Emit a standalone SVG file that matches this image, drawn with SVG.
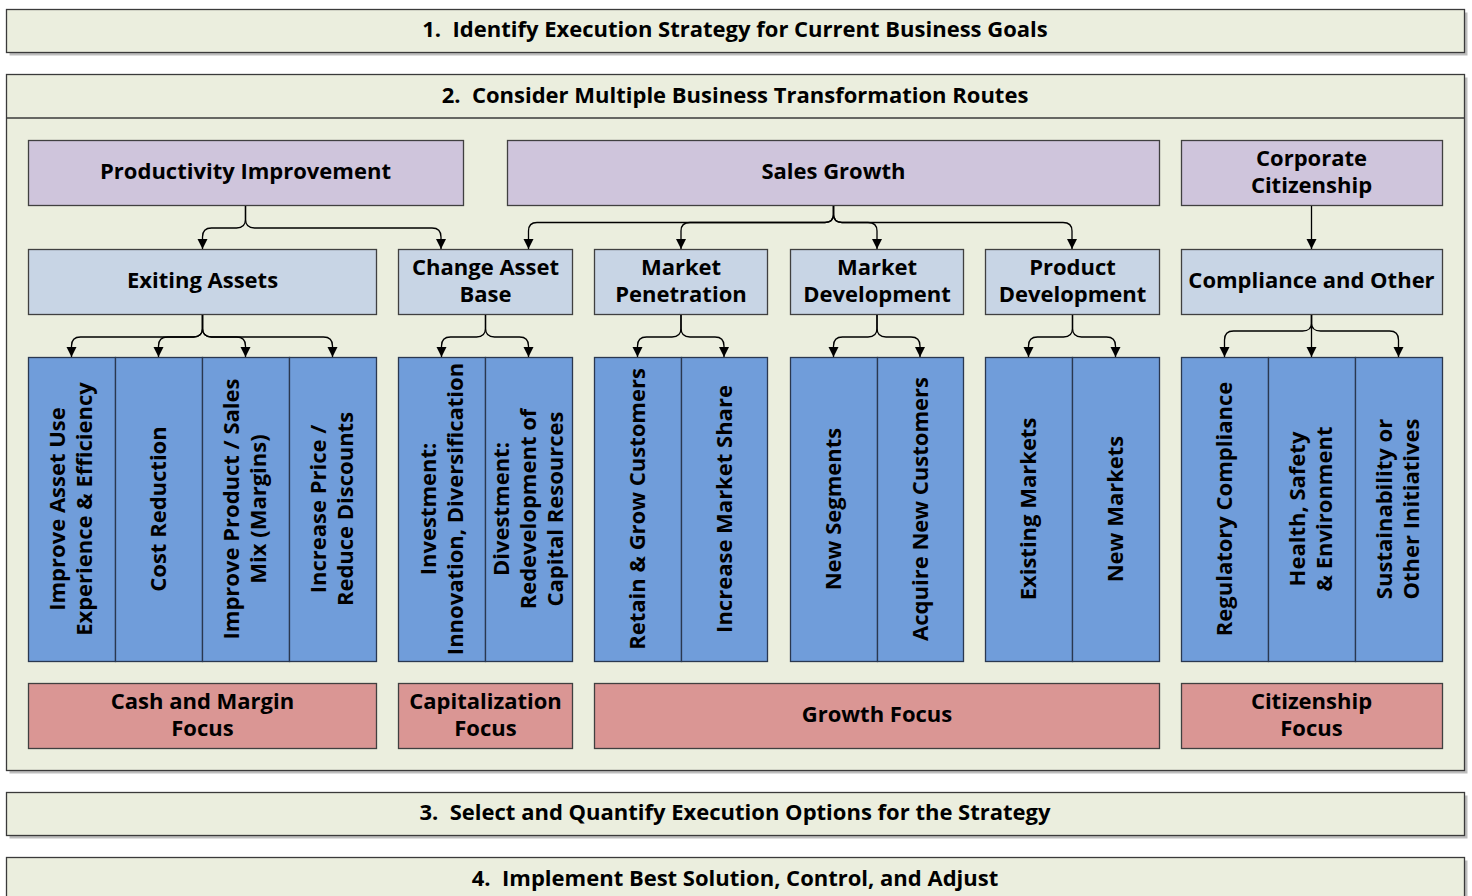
<svg xmlns="http://www.w3.org/2000/svg" width="1472" height="896" viewBox="0 0 1472 896">
<defs>
<marker id="arr" markerUnits="userSpaceOnUse" markerWidth="11" markerHeight="11" refX="10" refY="5" orient="auto">
<path d="M0,0 L10,5 L0,10 z" fill="#000"/>
</marker>
<style>
text{font-family:"Open Sans","Liberation Sans",sans-serif;font-weight:700;font-size:22px;fill:#000;text-anchor:middle;white-space:pre}
.band{fill:#EBEEDE;stroke:#3A3A3A;stroke-width:1.3}
.shadow{fill:#BDBDBD}
.purple{fill:#CFC5DC;stroke:#404040;stroke-width:1.3}
.lblue{fill:#C8D5E5;stroke:#404040;stroke-width:1.3}
.col{fill:#709DDA;stroke:#2A3850;stroke-width:1.3}
.red{fill:#DA9694;stroke:#404040;stroke-width:1.3}
.conn path{fill:none;stroke:#000;stroke-width:1.3;marker-end:url(#arr)}
</style>
</defs>
<rect width="1472" height="896" fill="#FFFFFF"/>

<g id="band1">
<rect class="shadow" x="9.5" y="12.5" width="1458" height="43"/>
<rect class="band" x="6.5" y="9.5" width="1458" height="43"/>
<text x="735" y="37">1.  Identify Execution Strategy for Current Business Goals</text>
</g>

<g id="band2">
<rect class="shadow" x="9.5" y="77.5" width="1458" height="696"/>
<rect class="band" x="6.5" y="74.5" width="1458" height="696"/>
<line x1="6.5" y1="118" x2="1464.5" y2="118" stroke="#3A3A3A" stroke-width="1.3"/>
<text x="735" y="103">2.  Consider Multiple Business Transformation Routes</text>
</g>

<g id="band3">
<rect class="shadow" x="9.5" y="795.5" width="1458" height="43"/>
<rect class="band" x="6.5" y="792.5" width="1458" height="43"/>
<text x="735" y="820">3.  Select and Quantify Execution Options for the Strategy</text>
</g>

<g id="band4">
<rect class="shadow" x="9.5" y="860.5" width="1458" height="60"/>
<rect class="band" x="6.5" y="857.5" width="1458" height="60"/>
<text x="735" y="886">4.  Implement Best Solution, Control, and Adjust</text>
</g>

<!-- top level -->
<g id="productivity">
<rect class="purple" x="28.5" y="140.5" width="435" height="65"/>
<text x="245.5" y="179">Productivity Improvement</text>
</g>
<g id="sales">
<rect class="purple" x="507.5" y="140.5" width="652" height="65"/>
<text x="833.5" y="179">Sales Growth</text>
</g>
<g id="corporate">
<rect class="purple" x="1181.5" y="140.5" width="261" height="65"/>
<text x="1311.5" y="165.5">Corporate</text>
<text x="1311.5" y="192.5">Citizenship</text>
</g>

<!-- second level -->
<g id="exiting">
<rect class="lblue" x="28.5" y="249.5" width="348" height="65"/>
<text x="202.5" y="288">Exiting Assets</text>
</g>
<g id="change">
<rect class="lblue" x="398.5" y="249.5" width="174" height="65"/>
<text x="485.5" y="274.5">Change Asset</text>
<text x="485.5" y="301.5">Base</text>
</g>
<g id="mpen">
<rect class="lblue" x="594.5" y="249.5" width="173" height="65"/>
<text x="681" y="274.5">Market</text>
<text x="681" y="301.5">Penetration</text>
</g>
<g id="mdev">
<rect class="lblue" x="790.5" y="249.5" width="173" height="65"/>
<text x="877" y="274.5">Market</text>
<text x="877" y="301.5">Development</text>
</g>
<g id="pdev">
<rect class="lblue" x="985.5" y="249.5" width="174" height="65"/>
<text x="1072.5" y="274.5">Product</text>
<text x="1072.5" y="301.5">Development</text>
</g>
<g id="compliance">
<rect class="lblue" x="1181.5" y="249.5" width="261" height="65"/>
<text x="1311.5" y="288">Compliance and Other</text>
</g>

<!-- columns -->
<g id="c1"><rect class="col" x="28.5" y="357.5" width="87" height="304"/>
<text transform="translate(71.5,509) rotate(-90)"><tspan x="0" y="-7">Improve Asset Use</tspan><tspan x="0" y="20">Experience &amp; Efficiency</tspan></text></g>
<g id="c2"><rect class="col" x="115.5" y="357.5" width="87" height="304"/>
<text transform="translate(158.5,509) rotate(-90)"><tspan x="0" y="7.5">Cost Reduction</tspan></text></g>
<g id="c3"><rect class="col" x="202.5" y="357.5" width="87" height="304"/>
<text transform="translate(245.5,509) rotate(-90)"><tspan x="0" y="-7">Improve Product / Sales</tspan><tspan x="0" y="20">Mix (Margins)</tspan></text></g>
<g id="c4"><rect class="col" x="289.5" y="357.5" width="87" height="304"/>
<text transform="translate(332.5,509) rotate(-90)"><tspan x="0" y="-7">Increase Price /</tspan><tspan x="0" y="20">Reduce Discounts</tspan></text></g>

<g id="c5"><rect class="col" x="398.5" y="357.5" width="87" height="304"/>
<text transform="translate(441.5,509) rotate(-90)"><tspan x="0" y="-6">Investment:</tspan><tspan x="0" y="21">Innovation, Diversification</tspan></text></g>
<g id="c6"><rect class="col" x="485.5" y="357.5" width="87" height="304"/>
<text transform="translate(528.5,509) rotate(-90)"><tspan x="0" y="-20">Divestment:</tspan><tspan x="0" y="7">Redevelopment of</tspan><tspan x="0" y="34">Capital Resources</tspan></text></g>

<g id="c7"><rect class="col" x="594.5" y="357.5" width="87" height="304"/>
<text transform="translate(637.5,509) rotate(-90)"><tspan x="0" y="7.5">Retain &amp; Grow Customers</tspan></text></g>
<g id="c8"><rect class="col" x="681.5" y="357.5" width="86" height="304"/>
<text transform="translate(724,509) rotate(-90)"><tspan x="0" y="7.5">Increase Market Share</tspan></text></g>

<g id="c9"><rect class="col" x="790.5" y="357.5" width="87" height="304"/>
<text transform="translate(833.5,509) rotate(-90)"><tspan x="0" y="7.5">New Segments</tspan></text></g>
<g id="c10"><rect class="col" x="877.5" y="357.5" width="86" height="304"/>
<text transform="translate(920,509) rotate(-90)"><tspan x="0" y="7.5">Acquire New Customers</tspan></text></g>

<g id="c11"><rect class="col" x="985.5" y="357.5" width="87" height="304"/>
<text transform="translate(1028.5,509) rotate(-90)"><tspan x="0" y="7.5">Existing Markets</tspan></text></g>
<g id="c12"><rect class="col" x="1072.5" y="357.5" width="87" height="304"/>
<text transform="translate(1115.5,509) rotate(-90)"><tspan x="0" y="7.5">New Markets</tspan></text></g>

<g id="c13"><rect class="col" x="1181.5" y="357.5" width="87" height="304"/>
<text transform="translate(1224.5,509) rotate(-90)"><tspan x="0" y="7.5">Regulatory Compliance</tspan></text></g>
<g id="c14"><rect class="col" x="1268.5" y="357.5" width="87" height="304"/>
<text transform="translate(1311.5,509) rotate(-90)"><tspan x="0" y="-7">Health, Safety</tspan><tspan x="0" y="20">&amp; Environment</tspan></text></g>
<g id="c15"><rect class="col" x="1355.5" y="357.5" width="87" height="304"/>
<text transform="translate(1398.5,509) rotate(-90)"><tspan x="0" y="-7">Sustainability or</tspan><tspan x="0" y="20">Other Initiatives</tspan></text></g>

<!-- focus boxes -->
<g id="cash">
<rect class="red" x="28.5" y="683.5" width="348" height="65"/>
<text x="202.5" y="709">Cash and Margin</text>
<text x="202.5" y="736">Focus</text>
</g>
<g id="capital">
<rect class="red" x="398.5" y="683.5" width="174" height="65"/>
<text x="485.5" y="709">Capitalization</text>
<text x="485.5" y="736">Focus</text>
</g>
<g id="growth">
<rect class="red" x="594.5" y="683.5" width="565" height="65"/>
<text x="877" y="722">Growth Focus</text>
</g>
<g id="citizenship">
<rect class="red" x="1181.5" y="683.5" width="261" height="65"/>
<text x="1311.5" y="709">Citizenship</text>
<text x="1311.5" y="736">Focus</text>
</g>

<g id="connectors" class="conn">
<!-- Productivity -->
<path d="M245.5,206 V219 Q245.5,228 236.5,228 H211.5 Q202.5,228 202.5,237 V249"/>
<path d="M245.5,206 V219 Q245.5,228 254.5,228 H432 Q441,228 441,237 V249"/>
<!-- Sales -->
<path d="M833.5,206 V214 Q833.5,222.5 825,222.5 H537 Q528.5,222.5 528.5,231 V249"/>
<path d="M833.5,206 V214 Q833.5,222.5 825,222.5 H690 Q681,222.5 681,231 V249"/>
<path d="M833.5,206 V214 Q833.5,222.5 842,222.5 H868 Q877,222.5 877,231 V249"/>
<path d="M833.5,206 V214 Q833.5,222.5 842,222.5 H1063 Q1072,222.5 1072,231 V249"/>
<!-- Corporate -->
<path d="M1311.5,206 V249"/>
<!-- Exiting -->
<path d="M202.5,315 V328 Q202.5,337 193.5,337 H80.5 Q71.5,337 71.5,346 V357"/>
<path d="M202.5,315 V328 Q202.5,337 193.5,337 H167.5 Q158.5,337 158.5,346 V357"/>
<path d="M202.5,315 V328 Q202.5,337 211.5,337 H236.5 Q245.5,337 245.5,346 V357"/>
<path d="M202.5,315 V328 Q202.5,337 211.5,337 H323.5 Q332.5,337 332.5,346 V357"/>
<!-- Change -->
<path d="M485.5,315 V328 Q485.5,337 476.5,337 H450.5 Q441.5,337 441.5,346 V357"/>
<path d="M485.5,315 V328 Q485.5,337 494.5,337 H519.5 Q528.5,337 528.5,346 V357"/>
<!-- Market Penetration -->
<path d="M681,315 V328 Q681,337 672,337 H646.5 Q637.5,337 637.5,346 V357"/>
<path d="M681,315 V328 Q681,337 690,337 H715 Q724,337 724,346 V357"/>
<!-- Market Development -->
<path d="M877,315 V328 Q877,337 868,337 H842.5 Q833.5,337 833.5,346 V357"/>
<path d="M877,315 V328 Q877,337 886,337 H911 Q920,337 920,346 V357"/>
<!-- Product Development -->
<path d="M1072.5,315 V328 Q1072.5,337 1063.5,337 H1037.5 Q1028.5,337 1028.5,346 V357"/>
<path d="M1072.5,315 V328 Q1072.5,337 1081.5,337 H1106.5 Q1115.5,337 1115.5,346 V357"/>
<!-- Compliance -->
<path d="M1311.5,315 V323 Q1311.5,331 1302.5,331 H1233.5 Q1224.5,331 1224.5,340 V357"/>
<path d="M1311.5,315 V357"/>
<path d="M1311.5,315 V323 Q1311.5,331 1320.5,331 H1389.5 Q1398.5,331 1398.5,340 V357"/>
</g>
</svg>
